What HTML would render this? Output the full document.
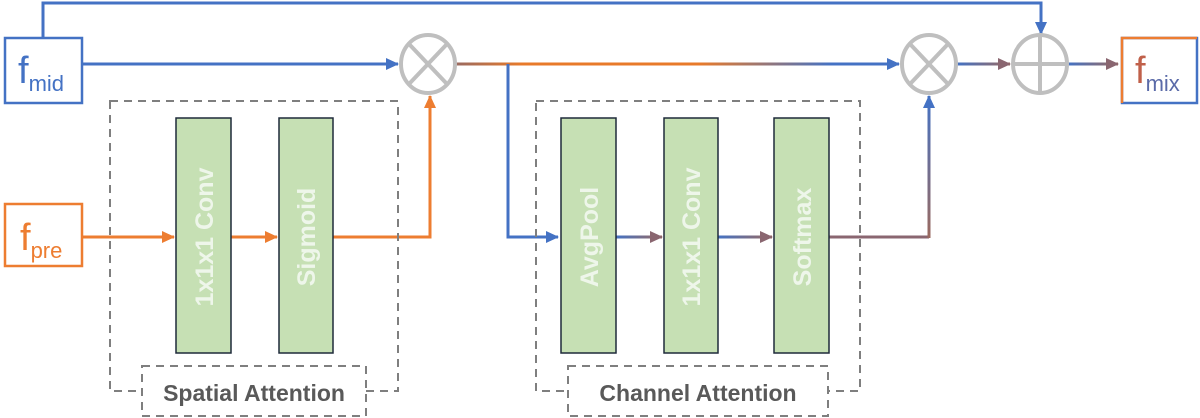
<!DOCTYPE html>
<html><head><meta charset="utf-8"><style>
html,body{margin:0;padding:0;background:#fff;}
svg{display:block;font-family:"Liberation Sans",sans-serif;}
</style></head><body>
<svg width="1200" height="418" viewBox="0 0 1200 418">
<defs>
<linearGradient id="gm" gradientUnits="userSpaceOnUse" x1="456" y1="0" x2="898" y2="0"><stop offset="0" stop-color="#9a6a60"/><stop offset="0.15" stop-color="#e87a2a"/><stop offset="0.55" stop-color="#e87a2a"/><stop offset="0.85" stop-color="#4472c4"/><stop offset="1" stop-color="#4472c4"/></linearGradient>
<linearGradient id="ga" gradientUnits="userSpaceOnUse" x1="616" y1="0" x2="662" y2="0"><stop offset="0" stop-color="#4472c4"/><stop offset="1" stop-color="#9a6a60"/></linearGradient>
<linearGradient id="gb" gradientUnits="userSpaceOnUse" x1="718" y1="0" x2="772" y2="0"><stop offset="0" stop-color="#4472c4"/><stop offset="1" stop-color="#9a6a60"/></linearGradient>
<linearGradient id="gc" gradientUnits="userSpaceOnUse" x1="957" y1="0" x2="1010" y2="0"><stop offset="0" stop-color="#4472c4"/><stop offset="1" stop-color="#9a6a60"/></linearGradient>
<linearGradient id="gd" gradientUnits="userSpaceOnUse" x1="1068" y1="0" x2="1118" y2="0"><stop offset="0" stop-color="#4472c4"/><stop offset="1" stop-color="#9a6a60"/></linearGradient>
<linearGradient id="gv" gradientUnits="userSpaceOnUse" x1="0" y1="237" x2="0" y2="96"><stop offset="0" stop-color="#9a6a60"/><stop offset="1" stop-color="#4472c4"/></linearGradient>
<marker id="ab" markerWidth="14" markerHeight="14" refX="12" refY="6" orient="auto" markerUnits="userSpaceOnUse"><path d="M0,0 L13,6 L0,12 z" fill="#4472c4"/></marker>
<marker id="ao" markerWidth="14" markerHeight="14" refX="12" refY="6" orient="auto" markerUnits="userSpaceOnUse"><path d="M0,0 L13,6 L0,12 z" fill="#ed7d31"/></marker>
<marker id="am" markerWidth="14" markerHeight="14" refX="12" refY="6" orient="auto" markerUnits="userSpaceOnUse"><path d="M0,0 L13,6 L0,12 z" fill="#8a6670"/></marker>
</defs>
<g fill="none" stroke-width="3">
<polyline points="43,37 43,3 1041,3 1041,34" stroke="#4472c4" marker-end="url(#ab)"/>
<line x1="82" y1="64" x2="398" y2="64" stroke="#4472c4" marker-end="url(#ab)"/>
<line x1="456" y1="64" x2="899" y2="64" stroke="url(#gm)" marker-end="url(#ab)"/>
<polyline points="508,64 508,237 558,237" stroke="#4472c4" marker-end="url(#ab)"/>
<line x1="82" y1="237" x2="174" y2="237" stroke="#ed7d31" marker-end="url(#ao)"/>
<line x1="231" y1="237" x2="277" y2="237" stroke="#ed7d31" marker-end="url(#ao)"/>
<polyline points="333,237 430,237 430,96" stroke="#ed7d31" marker-end="url(#ao)"/>
<line x1="616" y1="237" x2="662" y2="237" stroke="url(#ga)" marker-end="url(#am)"/>
<line x1="718" y1="237" x2="772" y2="237" stroke="url(#gb)" marker-end="url(#am)"/>
<line x1="829" y1="237" x2="929" y2="237" stroke="#8a6670"/>
<line x1="929" y1="238" x2="929" y2="96" stroke="url(#gv)" marker-end="url(#ab)"/>
<line x1="957" y1="64" x2="1010" y2="64" stroke="url(#gc)" marker-end="url(#am)"/>
<line x1="1068" y1="64" x2="1118" y2="64" stroke="url(#gd)" marker-end="url(#am)"/>
</g>
<g fill="none" stroke="#bfbfbf" stroke-width="4">
<ellipse cx="428" cy="64" rx="27" ry="29"/><line x1="409" y1="44" x2="447" y2="84"/><line x1="447" y1="44" x2="409" y2="84"/>
<ellipse cx="929" cy="64" rx="27" ry="29"/><line x1="910" y1="44" x2="948" y2="84"/><line x1="948" y1="44" x2="910" y2="84"/>
<ellipse cx="1040" cy="64" rx="27" ry="29"/><line x1="1013" y1="64" x2="1067" y2="64"/><line x1="1040" y1="35" x2="1040" y2="93"/>
</g>
<g fill="none" stroke="#7f7f7f" stroke-width="2" stroke-dasharray="8,6">
<rect x="110" y="101" width="288" height="290"/>
<rect x="536" y="101" width="324" height="290"/>
</g>
<g fill="#fff" stroke="#7f7f7f" stroke-width="2" stroke-dasharray="8,6">
<rect x="142" y="366" width="224" height="50"/>
<rect x="568" y="366" width="260" height="50"/>
</g>
<g font-size="23" font-weight="bold" fill="#595959" text-anchor="middle">
<text x="254" y="401">Spatial Attention</text>
<text x="698" y="401">Channel Attention</text>
</g>
<g fill="#c6e0b4" stroke="#1f2a3a" stroke-width="1.5">
<rect x="176" y="118" width="55" height="235"/>
<rect x="279" y="118" width="54" height="235"/>
<rect x="561" y="118" width="55" height="235"/>
<rect x="664" y="118" width="54" height="235"/>
<rect x="774" y="118" width="55" height="235"/>
</g>
<g font-size="25" font-weight="bold" fill="#eef6ea" text-anchor="middle">
<text transform="translate(213,237) rotate(-90)">1x1x1 Conv</text>
<text transform="translate(315,237) rotate(-90)">Sigmoid</text>
<text transform="translate(598,237) rotate(-90)">AvgPool</text>
<text transform="translate(700,237) rotate(-90)">1x1x1 Conv</text>
<text transform="translate(811,237) rotate(-90)">Softmax</text>
</g>
<rect x="5" y="38" width="77" height="65" fill="#fff" stroke="#4472c4" stroke-width="2.5"/>
<text x="18" y="83" font-size="38" fill="#4472c4">f<tspan font-size="22" dy="8">mid</tspan></text>
<rect x="5" y="204" width="77" height="62" fill="#fff" stroke="#ed7d31" stroke-width="2.5"/>
<text x="20" y="250" font-size="38" fill="#ed7d31">f<tspan font-size="22" dy="8">pre</tspan></text>
<rect x="1122" y="38" width="75" height="65" fill="#fff" stroke="#4472c4" stroke-width="2.5"/>
<polyline points="1122,103 1122,38 1197,38" fill="none" stroke="#ed7d31" stroke-width="2.5"/>
<text x="1135" y="83" font-size="38" fill="#c0604a">f<tspan font-size="22" dy="8" fill="#5a6aa8">mix</tspan></text>
</svg>
</body></html>
